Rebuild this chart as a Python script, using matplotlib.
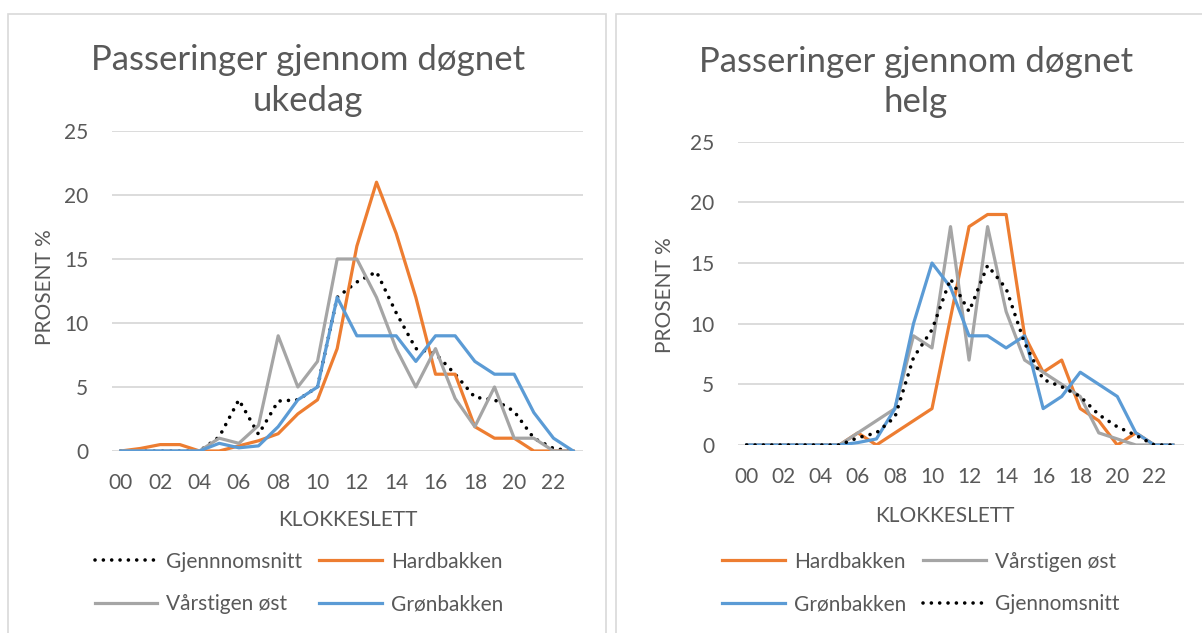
import matplotlib.pyplot as plt
from matplotlib.patches import Rectangle

plt.rcParams['font.family'] = ['Lato', 'DejaVu Sans']

# hours of the day and tick labels
hours = list(range(24))
tick_hours = hours[::2]
tick_labels = [f"{h:02d}" for h in tick_hours]

# Ukedag (weekday), percent per hour
uke_snitt = [0, 0, 0, 0, 0, 1.1, 4, 1.3, 3.9, 4, 5, 12, 13.2, 14, 10.8, 8, 7.6, 6, 4.2, 4, 3.1, 1, 0.2, 0]
uke_hard = [0, 0.2, 0.5, 0.5, 0, 0, 0.4, 0.8, 1.35, 2.9, 4, 8, 16, 21, 17, 12, 6, 6, 1.9, 1, 1, 0, 0, 0]
uke_var = [0, 0, 0, 0, 0, 1, 0.6, 2, 9, 5, 7, 15, 15, 12, 8, 5, 8, 4.1, 1.9, 5, 1, 1, 0, 0]
uke_gron = [0, 0, 0, 0, 0, 0.6, 0.25, 0.4, 1.9, 4, 5, 12, 9, 9, 9, 7, 9, 9, 7, 6, 6, 3, 1, 0]

# Helg (weekend), percent per hour
helg_hard = [0, 0, 0, 0, 0, 0, 1, 0, 1, 2, 3, 10.5, 18, 19, 19, 9, 6, 7, 3, 2, 0, 1, 0, 0]
helg_var = [0, 0, 0, 0, 0, 0, 1, 2, 3, 9, 8, 18, 7, 18, 11, 7, 6, 5, 4, 1, 0.5, 0, 0, 0]
helg_gron = [0, 0, 0, 0, 0, 0, 0.2, 0.5, 3, 10, 15, 13, 9, 9, 8, 9, 3, 4, 6, 5, 4, 1, 0, 0]
helg_snitt = [0, 0, 0, 0, 0, 0, 0.6, 1, 2.3, 7.2, 9.5, 13.7, 11, 14.8, 12.9, 8.4, 5.4, 4.8, 4, 2.5, 1.5, 0.8, 0, 0]

ORANGE = '#ED7D31'
GREY = '#A5A5A5'
BLUE = '#5B9BD5'
TEXT = '#595959'
GRID = '#D9D9D9'
DOTS = (0, (0.01, 2.3))

W, H = 1202, 633


def fx(px):
    return px / W


def fy(py):
    return 1 - py / H


def style_axes(ax, xlim):
    ax.set_xlim(*xlim)
    ax.set_ylim(0, 25)
    ax.set_yticks(range(0, 26, 5))
    ax.set_xticks(tick_hours)
    ax.set_xticklabels(tick_labels)
    ax.grid(axis='y', color=GRID, linewidth=1.3)
    ax.set_axisbelow(True)
    for s in ax.spines.values():
        s.set_visible(False)
    ax.tick_params(axis='both', length=0, colors=TEXT, labelsize=15)
    ax.tick_params(axis='x', pad=15.5)
    ax.tick_params(axis='y', pad=17)


fig = plt.figure(figsize=(12.02, 6.33), dpi=100)

# chart frames
fig.patches.append(Rectangle((fx(8), fy(650)), fx(606) - fx(8), fy(14) - fy(650),
                             transform=fig.transFigure, fill=False, ec=GRID, lw=1.2))
fig.patches.append(Rectangle((fx(616), fy(650)), fx(1230) - fx(616), fy(14) - fy(650),
                             transform=fig.transFigure, fill=False, ec=GRID, lw=1.2))

leg_kw = dict(ncol=2, loc='center', bbox_transform=fig.transFigure, frameon=False,
              handlelength=3.0, handletextpad=0.45, columnspacing=0.8,
              labelspacing=1.1, fontsize=15, labelcolor=TEXT)

# ---- left: ukedag
ax1 = fig.add_axes([fx(112), fy(451), fx(583) - fx(112), fy(131) - fy(451)])
l1, = ax1.plot(hours, uke_snitt, color='black', lw=2.6, linestyle=DOTS,
               dash_capstyle='round', label='Gjennnomsnitt')
l2, = ax1.plot(hours, uke_hard, color=ORANGE, lw=2.3, label='Hardbakken')
l3, = ax1.plot(hours, uke_var, color=GREY, lw=2.3, label='Vårstigen øst')
l4, = ax1.plot(hours, uke_gron, color=BLUE, lw=2.3, label='Grønbakken')
style_axes(ax1, (-0.45, 23.5))

fig.text(fx(308), fy(80.5), 'Passeringer gjennom døgnet\nukedag', ha='center', va='center',
         fontsize=25, color=TEXT, linespacing=1.32)
fig.text(fx(45), fy(287), 'PROSENT %', rotation=90, ha='center', va='center',
         fontsize=15, color=TEXT)
fig.text(fx(348), fy(520), 'KLOKKESLETT', ha='center', va='center', fontsize=15, color=TEXT)
# legend fills column-wise, so order handles to read row-wise
ax1.legend(handles=[l1, l3, l2, l4], bbox_to_anchor=(fx(299), fy(583)), **leg_kw)

# ---- right: helg
ax2 = fig.add_axes([fx(738), fy(445), fx(1184) - fx(738), fy(141.7) - fy(445)])
r1, = ax2.plot(hours, helg_hard, color=ORANGE, lw=2.3, label='Hardbakken')
r2, = ax2.plot(hours, helg_var, color=GREY, lw=2.3, label='Vårstigen øst')
r3, = ax2.plot(hours, helg_gron, color=BLUE, lw=2.3, label='Grønbakken')
r4, = ax2.plot(hours, helg_snitt, color='black', lw=2.6, linestyle=DOTS,
               dash_capstyle='round', label='Gjennomsnitt')
style_axes(ax2, (-0.47, 23.6))

fig.text(fx(916), fy(82), 'Passeringer gjennom døgnet\nhelg', ha='center', va='center',
         fontsize=25, color=TEXT, linespacing=1.32)
fig.text(fx(665), fy(295), 'PROSENT %', rotation=90, ha='center', va='center',
         fontsize=15, color=TEXT)
fig.text(fx(945), fy(516.5), 'KLOKKESLETT', ha='center', va='center', fontsize=15, color=TEXT)
ax2.legend(handles=[r1, r3, r2, r4], bbox_to_anchor=(fx(921), fy(583)), **leg_kw)

fig.savefig('out.png', dpi=100)
